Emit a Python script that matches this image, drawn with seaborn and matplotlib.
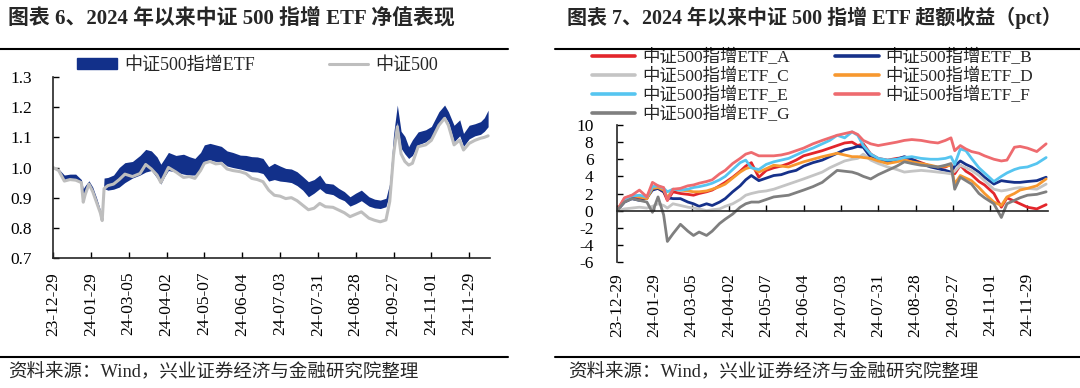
import pandas as pd
import seaborn as sns
import matplotlib
matplotlib.use("Agg")
import matplotlib.pyplot as plt
from matplotlib.lines import Line2D
from matplotlib.patches import Patch
from matplotlib.ticker import FormatStrFormatter

# ---- data (trading-day index since 23-12-29) ----
tick_labels = ["23-12-29", "24-01-29", "24-03-05", "24-04-02", "24-05-07", "24-06-04",
               "24-07-03", "24-07-31", "24-08-28", "24-09-27", "24-11-01", "24-11-29"]

days_l = [0, 3, 6, 9, 12, 15, 16, 17, 19, 21, 23, 25, 26, 27, 29, 32, 35, 38, 42, 46,
          49, 52, 55, 57, 59, 61, 65, 69, 72, 75, 78, 80, 83, 86, 89, 92, 95, 99, 102, 105,
          108, 111, 114, 117, 120, 123, 126, 129, 132, 135, 138, 141, 144, 148, 151, 154, 157, 160, 163, 167,
          170, 173, 176, 178, 180, 182, 184, 186, 188, 190, 193, 197, 200, 204, 207, 209, 212, 215, 217, 220,
          223, 226, 228, 230]
csi500 = [1.000, 0.990, 0.955, 0.960, 0.958, 0.950, 0.885, 0.910, 0.945, 0.920,
          0.885, 0.850, 0.824, 0.930, 0.940, 0.945, 0.960, 0.978, 0.970, 0.980,
          1.010, 0.995, 0.975, 0.950, 0.975, 1.000, 0.985, 0.967, 0.970, 0.964,
          0.990, 1.014, 1.020, 1.012, 1.014, 0.995, 0.990, 0.986, 0.980, 0.964,
          0.960, 0.953, 0.925, 0.908, 0.905, 0.897, 0.900, 0.890, 0.875, 0.860,
          0.865, 0.881, 0.870, 0.868, 0.859, 0.850, 0.837, 0.845, 0.853, 0.832,
          0.825, 0.820, 0.826, 0.887, 1.041, 1.135, 1.045, 1.020, 1.008, 1.014,
          1.069, 1.075, 1.090, 1.140, 1.163, 1.140, 1.075, 1.091, 1.058, 1.080,
          1.090, 1.097, 1.100, 1.105]
etf_hi = [1.000, 0.995, 0.975, 0.978, 0.978, 0.960, 0.930, 0.940, 0.956, 0.935,
          0.900, 0.860, 0.840, 0.965, 0.967, 0.975, 1.000, 1.016, 1.020, 1.040,
          1.060, 1.055, 1.035, 1.011, 1.030, 1.050, 1.040, 1.044, 1.036, 1.030,
          1.050, 1.075, 1.080, 1.075, 1.070, 1.055, 1.050, 1.041, 1.040, 1.036,
          1.035, 1.030, 1.003, 1.014, 1.005, 0.997, 0.995, 0.986, 0.970, 0.953,
          0.960, 0.975, 0.948, 0.945, 0.931, 0.920, 0.903, 0.915, 0.925, 0.903,
          0.895, 0.892, 0.898, 0.948, 1.108, 1.207, 1.120, 1.103, 1.069, 1.092,
          1.118, 1.125, 1.136, 1.185, 1.207, 1.185, 1.140, 1.158, 1.113, 1.140,
          1.145, 1.152, 1.165, 1.190]
etf_lo = [1.000, 0.990, 0.958, 0.962, 0.962, 0.952, 0.890, 0.915, 0.948, 0.925,
          0.888, 0.852, 0.826, 0.930, 0.925, 0.928, 0.935, 0.950, 0.965, 0.975,
          0.985, 0.990, 0.965, 0.945, 0.970, 0.990, 0.985, 0.978, 0.975, 0.975,
          0.995, 1.020, 1.025, 1.020, 1.020, 1.005, 1.000, 0.995, 0.990, 0.986,
          0.985, 0.980, 0.955, 0.960, 0.955, 0.953, 0.950, 0.940, 0.925, 0.903,
          0.915, 0.930, 0.915, 0.910, 0.898, 0.890, 0.872, 0.880, 0.890, 0.872,
          0.866, 0.864, 0.870, 0.915, 1.060, 1.150, 1.064, 1.045, 1.030, 1.040,
          1.075, 1.085, 1.100, 1.146, 1.170, 1.150, 1.085, 1.105, 1.070, 1.095,
          1.105, 1.110, 1.120, 1.135]

days_r = [0, 4, 8, 12, 16, 19, 22, 25, 27, 30, 34, 38, 41, 44, 48, 51, 55, 58, 62, 66,
          69, 72, 76, 80, 84, 88, 92, 96, 100, 105, 110, 114, 118, 122, 126, 129, 132, 136, 140, 145,
          150, 154, 158, 163, 168, 172, 176, 179, 181, 184, 187, 190, 194, 197, 202, 206, 209, 213, 216, 220,
          225, 230]
etf_a = [0.0, 1.3, 1.6, 1.5, 1.4, 2.8, 2.6, 2.2, 1.2, 2.2,
         2.0, 1.9, 1.8, 2.0, 2.2, 2.4, 2.9, 3.3, 3.9, 4.6,
         5.2, 5.6, 3.9, 4.7, 5.0, 5.2, 5.5, 5.9, 6.4, 6.7,
         7.0, 7.3, 7.6, 7.9, 8.0, 7.6, 7.8, 6.6, 6.1, 5.9,
         6.1, 6.2, 6.0, 5.6, 5.2, 5.0, 5.1, 5.4, 4.3, 5.3,
         4.6, 4.2, 3.4, 3.0, 2.0, 0.4, 1.5, 1.1, 0.8, 0.4,
         0.2, 0.7]
etf_b = [0.0, 1.0, 1.4, 1.2, 1.5, 2.4, 2.6, 2.2, 1.5, 1.4,
         1.4, 1.0, 0.8, 0.5, 0.8, 0.6, 1.0, 1.4, 2.2, 2.9,
         3.6, 4.1, 3.5, 3.8, 4.1, 4.2, 4.5, 4.7, 5.2, 5.6,
         5.9, 6.3, 6.7, 7.1, 7.3, 7.5, 7.4, 6.2, 5.9, 5.7,
         6.0, 6.3, 6.0, 5.5, 5.1, 4.9, 4.7, 4.5, 5.2, 5.8,
         5.4, 5.1, 4.5, 3.9, 3.1, 3.5, 3.4, 3.3, 3.3, 3.4,
         3.5, 3.9]
etf_c = [0.0, 0.2, 0.3, 0.4, 0.3, 0.5, 0.8, 0.6, 0.3, 0.8,
         0.6, 0.4, 0.3, 0.2, 0.0, 0.1, 0.2, 0.5, 0.8, 1.3,
         1.8, 2.0, 2.2, 2.3, 2.5, 2.8, 3.1, 3.4, 3.7, 4.1,
         4.5, 5.0, 5.4, 5.8, 6.0, 6.1, 6.6, 5.9, 5.5, 5.1,
         4.8, 4.5, 4.6, 4.7, 4.6, 4.5, 4.4, 4.3, 4.6, 5.3,
         5.0, 4.7, 4.1, 3.5, 2.5, 2.3, 2.4, 2.6, 2.7, 2.6,
         2.5, 3.1]
etf_d = [0.0, 1.4, 1.8, 1.6, 1.4, 2.6, 2.7, 2.4, 1.5, 2.5,
         2.4, 2.3, 2.2, 2.2, 2.3, 2.5, 2.8, 3.1, 3.8, 4.5,
         4.9, 5.1, 4.5, 4.9, 5.3, 5.2, 5.1, 5.4, 5.7, 6.0,
         6.3, 6.5, 6.7, 6.5, 6.3, 6.3, 6.2, 6.1, 5.8, 5.5,
         5.7, 5.9, 5.7, 5.5, 5.3, 5.1, 5.2, 5.3, 3.1, 4.1,
         3.8, 3.5, 2.7, 2.0, 1.0, 0.6, 1.6, 2.0, 2.4, 2.6,
         2.9, 3.7]
etf_e = [0.0, 1.3, 1.7, 1.8, 1.6, 2.8, 2.9, 2.6, 2.2, 2.5,
         2.4, 2.5, 2.7, 2.8, 3.0, 3.2, 3.6, 4.0, 4.8, 5.6,
         5.9, 5.0, 4.8, 5.4, 5.7, 5.9, 6.1, 6.5, 6.9, 7.3,
         7.8, 8.2, 8.8, 8.5, 9.2, 8.8, 7.6, 6.6, 6.1, 5.9,
         6.0, 6.2, 6.3, 6.1, 6.0, 6.0, 6.1, 6.3, 5.4, 7.2,
         7.0, 6.1, 5.0, 4.4, 3.4, 4.0, 4.4, 4.8, 5.0, 5.1,
         5.5, 6.2]
etf_f = [0.0, 1.5, 1.8, 2.4, 1.6, 3.3, 2.9, 2.7, 1.2, 2.5,
         2.6, 2.9, 3.0, 3.2, 3.4, 3.6, 4.3, 4.7, 5.5, 6.1,
         6.6, 6.8, 6.4, 6.4, 6.4, 6.5, 6.7, 7.0, 7.3, 7.8,
         8.2, 8.5, 8.8, 9.0, 9.2, 8.9, 8.2, 7.8, 7.6, 7.8,
         8.0, 8.2, 8.3, 8.2, 8.0, 7.9, 8.2, 8.5, 7.0, 7.6,
         7.2, 6.9, 6.7, 6.4, 6.0, 5.8, 5.9, 7.4, 7.5, 7.3,
         6.9, 7.8]
etf_g = [0.0, 1.0, 1.4, 1.2, 1.0, -0.2, 1.6, -0.5, -3.6, -2.7,
         -1.6, -2.4, -2.9, -2.5, -2.9, -2.4, -1.5, -1.0, -0.4, 0.4,
         0.8, 1.0, 1.0, 1.3, 1.6, 1.7, 1.8, 2.1, 2.4, 2.8,
         3.3, 4.0, 4.7, 4.6, 4.5, 4.3, 4.0, 3.7, 4.2, 4.7,
         5.2, 5.7, 5.5, 5.3, 5.2, 5.1, 5.3, 5.5, 2.5, 3.9,
         3.5, 3.1, 2.0, 1.5, 0.8, -0.8, 0.8, 1.2, 1.5, 1.8,
         1.9, 2.2]

fund_names = ["中证500指增ETF_" + s for s in "ABCDEFG"]
fund_colors = ["#E3262B", "#16318A", "#C4C4C4", "#F7982F", "#56C5F0", "#EE6B6F", "#7F7F7F"]

title_l = "图表 6、2024 年以来中证 500 指增 ETF 净值表现"
title_r = "图表 7、2024 年以来中证 500 指增 ETF 超额收益（pct）"
source = "资料来源：Wind，兴业证券经济与金融研究院整理"

NAVY = "#12308A"
GRAY = "#BEBEBE"

left_df = pd.DataFrame({"day": days_l, "csi500": csi500, "hi": etf_hi, "lo": etf_lo})
right_df = pd.DataFrame({"day": days_r, **dict(zip(fund_names,
                        [etf_a, etf_b, etf_c, etf_d, etf_e, etf_f, etf_g]))})
right_long = right_df.melt(id_vars="day", var_name="fund", value_name="excess")

sns.set_theme(style="ticks")
plt.rcParams["font.family"] = ["Liberation Serif", "Noto Sans CJK SC"]
plt.rcParams["axes.unicode_minus"] = False
plt.rcParams["axes.linewidth"] = 1.2

W, H = 1080, 388
fig = plt.figure(figsize=(W / 100, H / 100), dpi=100)


def fx(px):
    return px / W


def fy(py):
    return 1 - py / H


xt = list(range(0, 20 * len(tick_labels), 20))

# ---- left panel ----
ax1 = fig.add_axes([fx(53), fy(258), fx(490 - 53), (258 - 77) / H])
ax1.fill_between(left_df["day"], left_df["lo"], left_df["hi"], color=NAVY, lw=0)
sns.lineplot(data=left_df, x="day", y="csi500", ax=ax1, color=GRAY, linewidth=2.2)
ax1.set_xlim(0, 231)
ax1.set_ylim(0.7, 1.3)
ax1.set_yticks([0.7, 0.8, 0.9, 1.0, 1.1, 1.2, 1.3])
ax1.yaxis.set_major_formatter(FormatStrFormatter("%.1f"))
ax1.set_xticks(xt)
ax1.set_xticklabels(tick_labels, rotation=90)
ax1.tick_params(axis="x", direction="in", length=4, width=1, pad=10, labelsize=12.5, colors="black")
ax1.tick_params(axis="y", direction="in", length=4, width=1, pad=15, labelsize=12.5, colors="black")
ax1.set_xlabel("")
ax1.set_ylabel("")
sns.despine(ax=ax1)
ax1.legend(handles=[Patch(color=NAVY), Line2D([], [], color=GRAY, lw=2.2)],
           labels=["中证500指增ETF", "中证500"], ncol=2, loc="upper left",
           bbox_to_anchor=(fx(77), fy(57)), bbox_transform=fig.transFigure,
           frameon=False, fontsize=13, borderpad=0, borderaxespad=0,
           handlelength=2.2, handleheight=0.5, handletextpad=0.4, columnspacing=4.1)

# ---- right panel ----
ax2 = fig.add_axes([fx(617), fy(262), fx(1048 - 617), (262 - 125) / H])
sns.lineplot(data=right_long, x="day", y="excess", hue="fund", hue_order=fund_names,
             palette=fund_colors, linewidth=2.0, ax=ax2, legend=False, estimator=None, sort=False)
lines = ax2.get_lines()[:len(fund_names)]
ax2.set_xlim(0, 231)
ax2.set_ylim(-6, 10)
ax2.set_yticks(list(range(-6, 11, 2)))
ax2.spines["bottom"].set_position(("data", 0))
ax2.set_xticks(xt)
ax2.set_xticklabels([])
ax2.tick_params(axis="x", direction="in", length=4, width=1, colors="black")
ax2.tick_params(axis="y", direction="in", length=4, width=1, pad=17, labelsize=12.5, colors="black")
ax2.set_xlabel("")
ax2.set_ylabel("")
sns.despine(ax=ax2)
sec = ax2.secondary_xaxis(0.0)
sec.set_xticks(xt)
sec.set_xticklabels(tick_labels, rotation=90)
sec.tick_params(length=0, pad=8, labelsize=12.5, colors="black")
sec.spines["bottom"].set_visible(False)

order = [0, 2, 4, 6, 1, 3, 5]
handles = [Line2D([], [], color=lines[i].get_color(), lw=2.6) for i in order]
ax2.legend(handles=handles, labels=[fund_names[i] for i in order], ncol=2, loc="upper left",
           bbox_to_anchor=(fx(592), fy(49)), bbox_transform=fig.transFigure,
           frameon=False, fontsize=12.5, borderpad=0, borderaxespad=0, labelspacing=0.1,
           handlelength=2.5, handletextpad=0.4, columnspacing=2.6)

# ---- titles, rules, source ----
fig.text(fx(8), fy(18), title_l, fontsize=15, weight="bold", va="center", ha="left")
fig.text(fx(567), fy(18), title_r, fontsize=14.4, weight="bold", va="center", ha="left")
for x0, x1 in [(0, 508), (555, 1080)]:
    for yy in (49, 357):
        fig.add_artist(Line2D([fx(x0), fx(x1)], [fy(yy), fy(yy)], transform=fig.transFigure,
                              color="black", lw=1.5))
fig.text(fx(8), fy(372), source, fontsize=13.3, va="center", ha="left")
fig.text(fx(568), fy(372), source, fontsize=13.3, va="center", ha="left")

fig.savefig("out.png", dpi=100)
